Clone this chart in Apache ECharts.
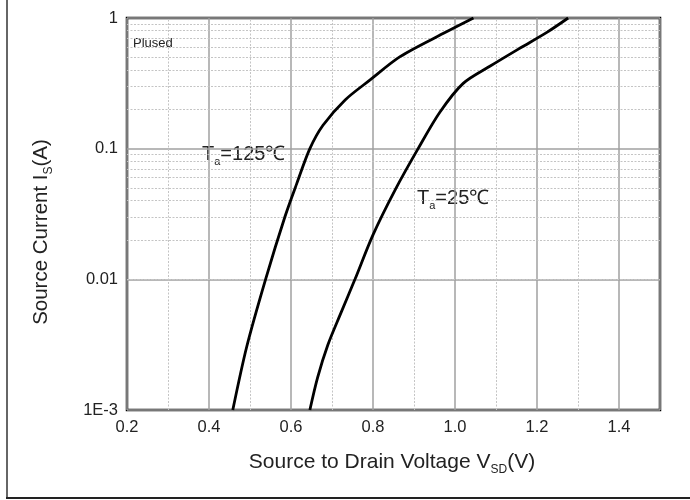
<!DOCTYPE html>
<html>
<head>
<meta charset="utf-8">
<script src="https://cdn.jsdelivr.net/npm/echarts@6/dist/echarts.min.js"></script>
<style>html,body{margin:0;padding:0;background:#fff}#c{width:690px;height:500px}</style>
</head>
<body>
<div id="c"></div>
<script>
// Data
var vsd125 = [0.458, 0.492, 0.538, 0.585, 0.614, 0.646, 0.678, 0.732, 0.793, 0.866, 0.972, 1.045];
var is125  = [0.001, 0.00305, 0.01, 0.030, 0.054, 0.1, 0.151, 0.236, 0.336, 0.506, 0.763, 1];
var vsd25 = [0.646, 0.665, 0.690, 0.720, 0.756, 0.800, 0.855, 0.910, 0.963, 1.020, 1.085, 1.159, 1.224, 1.276];
var is25  = [0.001, 0.00178, 0.00316, 0.00537, 0.01, 0.0219, 0.049, 0.1, 0.19, 0.316, 0.427, 0.589, 0.776, 1];
var yTickValues = [0.001, 0.01, 0.1, 1];
var yTickLabels = ['1E-3', '0.01', '0.1', '1'];
var xMinorGrid = [0.3, 0.5, 0.7, 0.9, 1.1, 1.3];
var yMinorGrid = [0.002,0.003,0.004,0.005,0.006,0.007,0.008,0.009,
                  0.02,0.03,0.04,0.05,0.06,0.07,0.08,0.09,
                  0.2,0.3,0.4,0.5,0.6,0.7,0.8,0.9];

function pairs(xs, ys){ return xs.map(function(x,i){ return [x, ys[i]]; }); }

var FONT = 'Liberation Sans, Arial, sans-serif';
var chart = echarts.init(document.getElementById('c'), null, {renderer:'canvas'});
var minorStyle = {color:'#c4c4c4', width:1, type:[2,1.5]};
chart.setOption({
  animation:false,
  backgroundColor:'#fff',
  grid:{left:127, right:30, top:18, bottom:90, show:true, borderColor:'#000', borderWidth:2.5, backgroundColor:'transparent'},
  xAxis:{
    type:'value', min:0.2, max:1.5, interval:0.2,
    axisLine:{show:false}, axisTick:{show:false},
    axisLabel:{color:'#222', fontSize:16.5, fontFamily:FONT, margin:9, showMaxLabel:false,
      formatter:function(v){ return Math.abs(v-1.5)<1e-6 ? '' : v.toFixed(1); }},
    splitLine:{show:true, lineStyle:{color:'#a0a0a0', width:1.5}}
  },
  yAxis:{
    type:'log', logBase:10, min:0.001, max:1,
    axisLine:{show:false}, axisTick:{show:false},
    axisLabel:{color:'#222', fontSize:16.5, fontFamily:FONT, margin:9,
      formatter:function(v){ for (var i=0;i<yTickValues.length;i++){ if (Math.abs(Math.log10(v)-Math.log10(yTickValues[i]))<1e-6) return yTickLabels[i]; } return ''; }},
    splitLine:{show:true, lineStyle:{color:'#a0a0a0', width:1.5}}
  },
  series:[
    {type:'line', data:[], silent:true, z:1,
      markLine:{silent:true, symbol:['none','none'], label:{show:false}, animation:false,
        lineStyle:minorStyle,
        data: xMinorGrid.map(function(v){return {xAxis:v};}).concat(yMinorGrid.map(function(v){return {yAxis:v};}))}},
    {type:'line', name:'125', data:pairs(vsd125, is125), smooth:0.3, showSymbol:false, z:5,
      lineStyle:{color:'#000', width:2.8}},
    {type:'line', name:'25', data:pairs(vsd25, is25), smooth:0.3, showSymbol:false, z:5,
      lineStyle:{color:'#000', width:2.8}}
  ],
  graphic:[
    {type:'rect', shape:{x:6, y:0, width:2, height:499}, style:{fill:'#666'}, silent:true},
    {type:'rect', shape:{x:6, y:497, width:684, height:2}, style:{fill:'#222'}, silent:true},
    {type:'text', left:133, top:37, style:{text:'Plused', font:'13px '+FONT, fill:'#222'}},
    {type:'text', left:202, top:144, style:{text:'T{s|a}=125℃', font:'20px '+FONT, fill:'#222',
      rich:{s:{fontSize:11, fontFamily:FONT, fill:'#222', padding:[16,0,0,0]}}}},
    {type:'text', left:417, top:188, style:{text:'T{s|a}=25℃', font:'20px '+FONT, fill:'#222',
      rich:{s:{fontSize:11, fontFamily:FONT, fill:'#222', padding:[16,0,0,0]}}}},
    {type:'text', x:392, y:462, style:{text:'Source to Drain Voltage V{s|SD}(V)', font:'21px '+FONT, fill:'#222', align:'center', verticalAlign:'middle',
      rich:{s:{fontSize:12, fontFamily:FONT, fill:'#222', padding:[15,0,0,0]}}}},
    {type:'text', x:41, y:232, rotation:Math.PI/2, style:{text:'Source Current I{s|S}(A)', font:'20.5px '+FONT, fill:'#222', align:'center', verticalAlign:'middle',
      rich:{s:{fontSize:12, fontFamily:FONT, fill:'#222', padding:[15,0,0,0]}}}}
  ]
});
</script>
</body>
</html>
